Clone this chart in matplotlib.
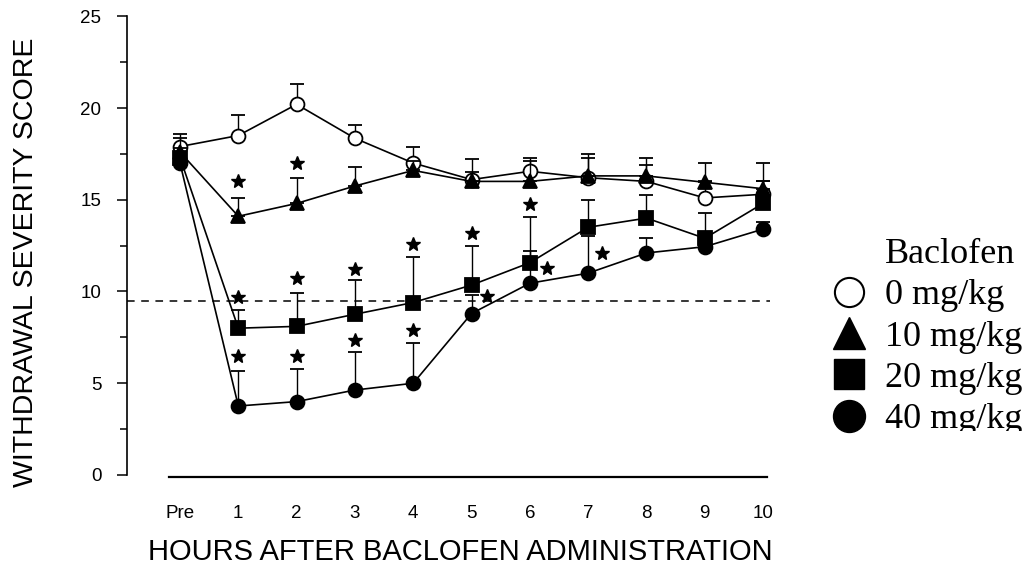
import numpy as np
import matplotlib
matplotlib.use("Agg")
import matplotlib.pyplot as plt
from matplotlib.lines import Line2D
from matplotlib.patches import Rectangle

# ---------------- data ----------------
tick_labels = ["Pre", "1", "2", "3", "4", "5", "6", "7", "8", "9", "10"]
hours = [0, 1, 2, 3, 4, 5, 6, 7, 8, 9, 10]

dose0_mean = [17.9, 18.5, 20.2, 18.35, 17.0, 16.1, 16.55, 16.2, 16.0, 15.1, 15.3]
dose0_sem = [0.7, 1.1, 1.1, 0.75, 0.9, 1.1, 0.75, 1.3, 0.9, 0.9, 0.7]

dose10_mean = [17.6, 14.1, 14.8, 15.75, 16.6, 16.0, 16.0, 16.3, 16.3, 15.95, 15.6]
dose10_sem = [0.75, 1.0, 1.4, 1.05, 0.5, 0.5, 1.1, 1.0, 1.0, 1.05, 1.4]

dose20_mean = [17.3, 8.0, 8.1, 8.76, 9.4, 10.35, 11.57, 13.5, 14.0, 12.9, 14.8]
dose20_sem = [0.5, 1.0, 1.8, 1.85, 2.5, 2.15, 2.5, 1.5, 1.25, 1.4, 1.2]

dose40_mean = [17.0, 3.76, 4.0, 4.63, 5.0, 8.8, 10.45, 11.0, 12.1, 12.44, 13.4]
dose40_sem = [0.5, 1.9, 1.8, 2.1, 2.2, 1.0, 1.75, 2.0, 0.8, 0.5, 0.4]

# significance stars
star_x = [1, 2, 1, 2, 3, 4, 5, 6, 1, 2, 3, 4, 5.26, 6.29, 7.23]
star_y = [16.0, 17.0, 9.7, 10.75, 11.2, 12.6, 13.2, 14.75,
          6.5, 6.5, 7.35, 7.9, 9.75, 11.3, 12.1]

baseline_level = 9.5
legend_title = "Baclofen"
legend_labels = ["0 mg/kg", "10 mg/kg", "20 mg/kg", "40 mg/kg"]

# ---------------- figure ----------------
fig = plt.figure(figsize=(10.29, 5.73), dpi=100)
ax = fig.add_axes([0.12342, 0.16143, 0.6346, 0.8102])
x_lo, x_hi = -0.909, 10.29
ax.set_xlim(x_lo, x_hi)
ax.set_ylim(-0.3, 25)

sans = "Liberation Sans"
serif = "Liberation Serif"

ms = 10
ekw = dict(capsize=4.7, elinewidth=1.0, capthick=1.4, ecolor="black",
           color="black", lw=1.2)

def draw(mean, sem, marker, mfc, z):
    lower = np.zeros(len(sem))
    ax.errorbar(hours, mean, yerr=[lower, sem], marker=marker, ms=ms,
                mfc=mfc, mec="black", mew=1.3, zorder=z, **ekw)

draw(dose0_mean, dose0_sem, "o", "white", 3)
draw(dose10_mean, dose10_sem, "^", "black", 4)
draw(dose20_mean, dose20_sem, "s", "black", 5)
draw(dose40_mean, dose40_sem, "o", "black", 6)

ax.plot(star_x, star_y, linestyle="none", marker="*", ms=10, color="black",
        zorder=7)

ax.hlines(baseline_level, x_lo, 10.12, colors="black", linewidth=1.1,
          linestyles=(0, (5, 4.3)), zorder=2)

# axes styling
for s in ["top", "right"]:
    ax.spines[s].set_visible(False)
ax.spines["left"].set_bounds(0, 25)
ax.spines["left"].set_linewidth(1.2)
ax.spines["bottom"].set_position(("data", -0.1))
ax.spines["bottom"].set_bounds(-0.19, 10.07)
ax.spines["bottom"].set_linewidth(1.6)

ax.set_yticks([0, 5, 10, 15, 20, 25])
ax.set_yticks([2.5, 7.5, 12.5, 17.5, 22.5], minor=True)
ax.tick_params(axis="y", which="major", length=7.5, width=1.1, pad=11,
               labelsize=13.5, direction="out")
ax.tick_params(axis="y", which="minor", length=5, width=1.1, direction="out")
for t in ax.get_yticklabels():
    t.set_fontfamily(sans)

ax.set_xticks(hours)
ax.set_xticklabels(tick_labels, fontfamily=sans, fontsize=13.5)
ax.tick_params(axis="x", length=0, pad=20)

fig.text(26 / 1029, 1 - 262 / 573, "WITHDRAWAL SEVERITY SCORE",
         rotation=90, ha="center", va="center", fontfamily=sans,
         fontsize=20.5)
fig.text(460 / 1029, 1 - 552 / 573, "HOURS AFTER BACLOFEN ADMINISTRATION",
         ha="center", va="center", fontfamily=sans, fontsize=21)

# legend
handles = [Line2D([], [], linestyle="none", marker=None),
           Line2D([], [], linestyle="none", marker="o", ms=21, mfc="white",
                  mec="black", mew=1.5),
           Line2D([], [], linestyle="none", marker="^", ms=23, color="black"),
           Line2D([], [], linestyle="none", marker="s", ms=22, color="black"),
           Line2D([], [], linestyle="none", marker="o", ms=23, color="black")]
leg = fig.legend(handles, [legend_title] + legend_labels, loc="upper left",
                 bbox_to_anchor=(830.6 / 1029, 1 - 238 / 573), frameon=False,
                 prop={"family": serif, "size": 26}, handlelength=1.0,
                 handletextpad=0.5, borderpad=0, borderaxespad=0,
                 labelspacing=0.22)

# the reference crop cuts the bottom of the last legend row
fig.add_artist(Rectangle((860 / 1029, 0), 1 - 860 / 1029, 1 - 431 / 573,
                         transform=fig.transFigure, facecolor="white",
                         edgecolor="none", zorder=20))

fig.savefig("out.png", dpi=100)
